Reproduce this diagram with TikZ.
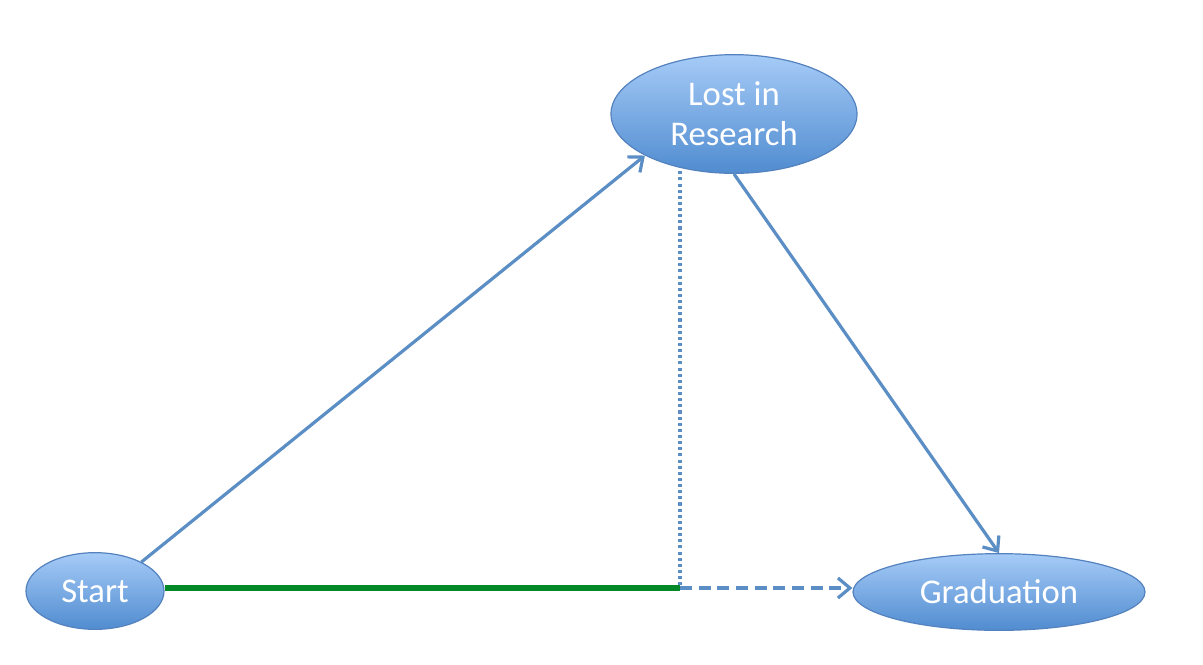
\documentclass[tikz,border=0pt]{standalone}
\usepackage{fontspec}
\setmainfont{Carlito}
\usetikzlibrary{shapes.geometric,arrows.meta}

\definecolor{linkblue}{RGB}{91,142,196}
\definecolor{edgeblue}{RGB}{84,130,190}
\definecolor{topblue}{RGB}{166,203,247}
\definecolor{botblue}{RGB}{80,140,208}
\definecolor{pathgreen}{RGB}{4,136,40}

\tikzset{every picture/.style={line width=0.75pt}}
\tikzset{
  state/.style={ellipse, draw=edgeblue, line width=0.9pt, top color=topblue, bottom color=botblue,
    text=white, font=\fontsize{26}{30}\selectfont, align=center, inner sep=0pt},
  link/.style={draw=linkblue, line width=2.4pt, -{Straight Barb[length=9pt,width=15pt,line width=2.4pt]}}
}

\begin{document}
\begin{tikzpicture}[x=0.75pt,y=0.75pt,yscale=-1,xscale=1]
	\useasboundingbox (0,0) rectangle (1203,664);
	
	%Shape: Ellipse [id:start]
	\node [state, minimum width=103.5pt, minimum height=57.5pt] (start) at (95,591) {Start};
	%Shape: Ellipse [id:lost]
	\node [state, minimum width=184.5pt, minimum height=89pt] (lost) at (734,114) {Lost in\\Research};
	%Shape: Ellipse [id:grad]
	\node [state, minimum width=219pt, minimum height=57.5pt] (grad) at (999,592) {Graduation};
	
	%Coordinate [id:corner]
	\coordinate (corner) at (680,588);
	
	%Straight Lines [id:start-lost]
	\draw [link] (start.32) -- (lost.205);
	%Straight Lines [id:lost-grad]
	\draw [link] (lost.south) -- (grad.north);
	%Straight Lines [id:green]
	\draw [draw=pathgreen, line width=4.5pt] (start.east |- corner) -- (corner);
	%Straight Lines [id:dotted]
	\draw [draw=linkblue, line width=2.3pt, dash pattern={on 2.3pt off 2.3pt}] ([yshift=-2pt]lost.south -| corner) -- (corner);
	%Straight Lines [id:dashed]
	\draw [link, dash pattern={on 9pt off 5pt}] (corner) -- (grad.west |- corner);
	
\end{tikzpicture}
\end{document}
